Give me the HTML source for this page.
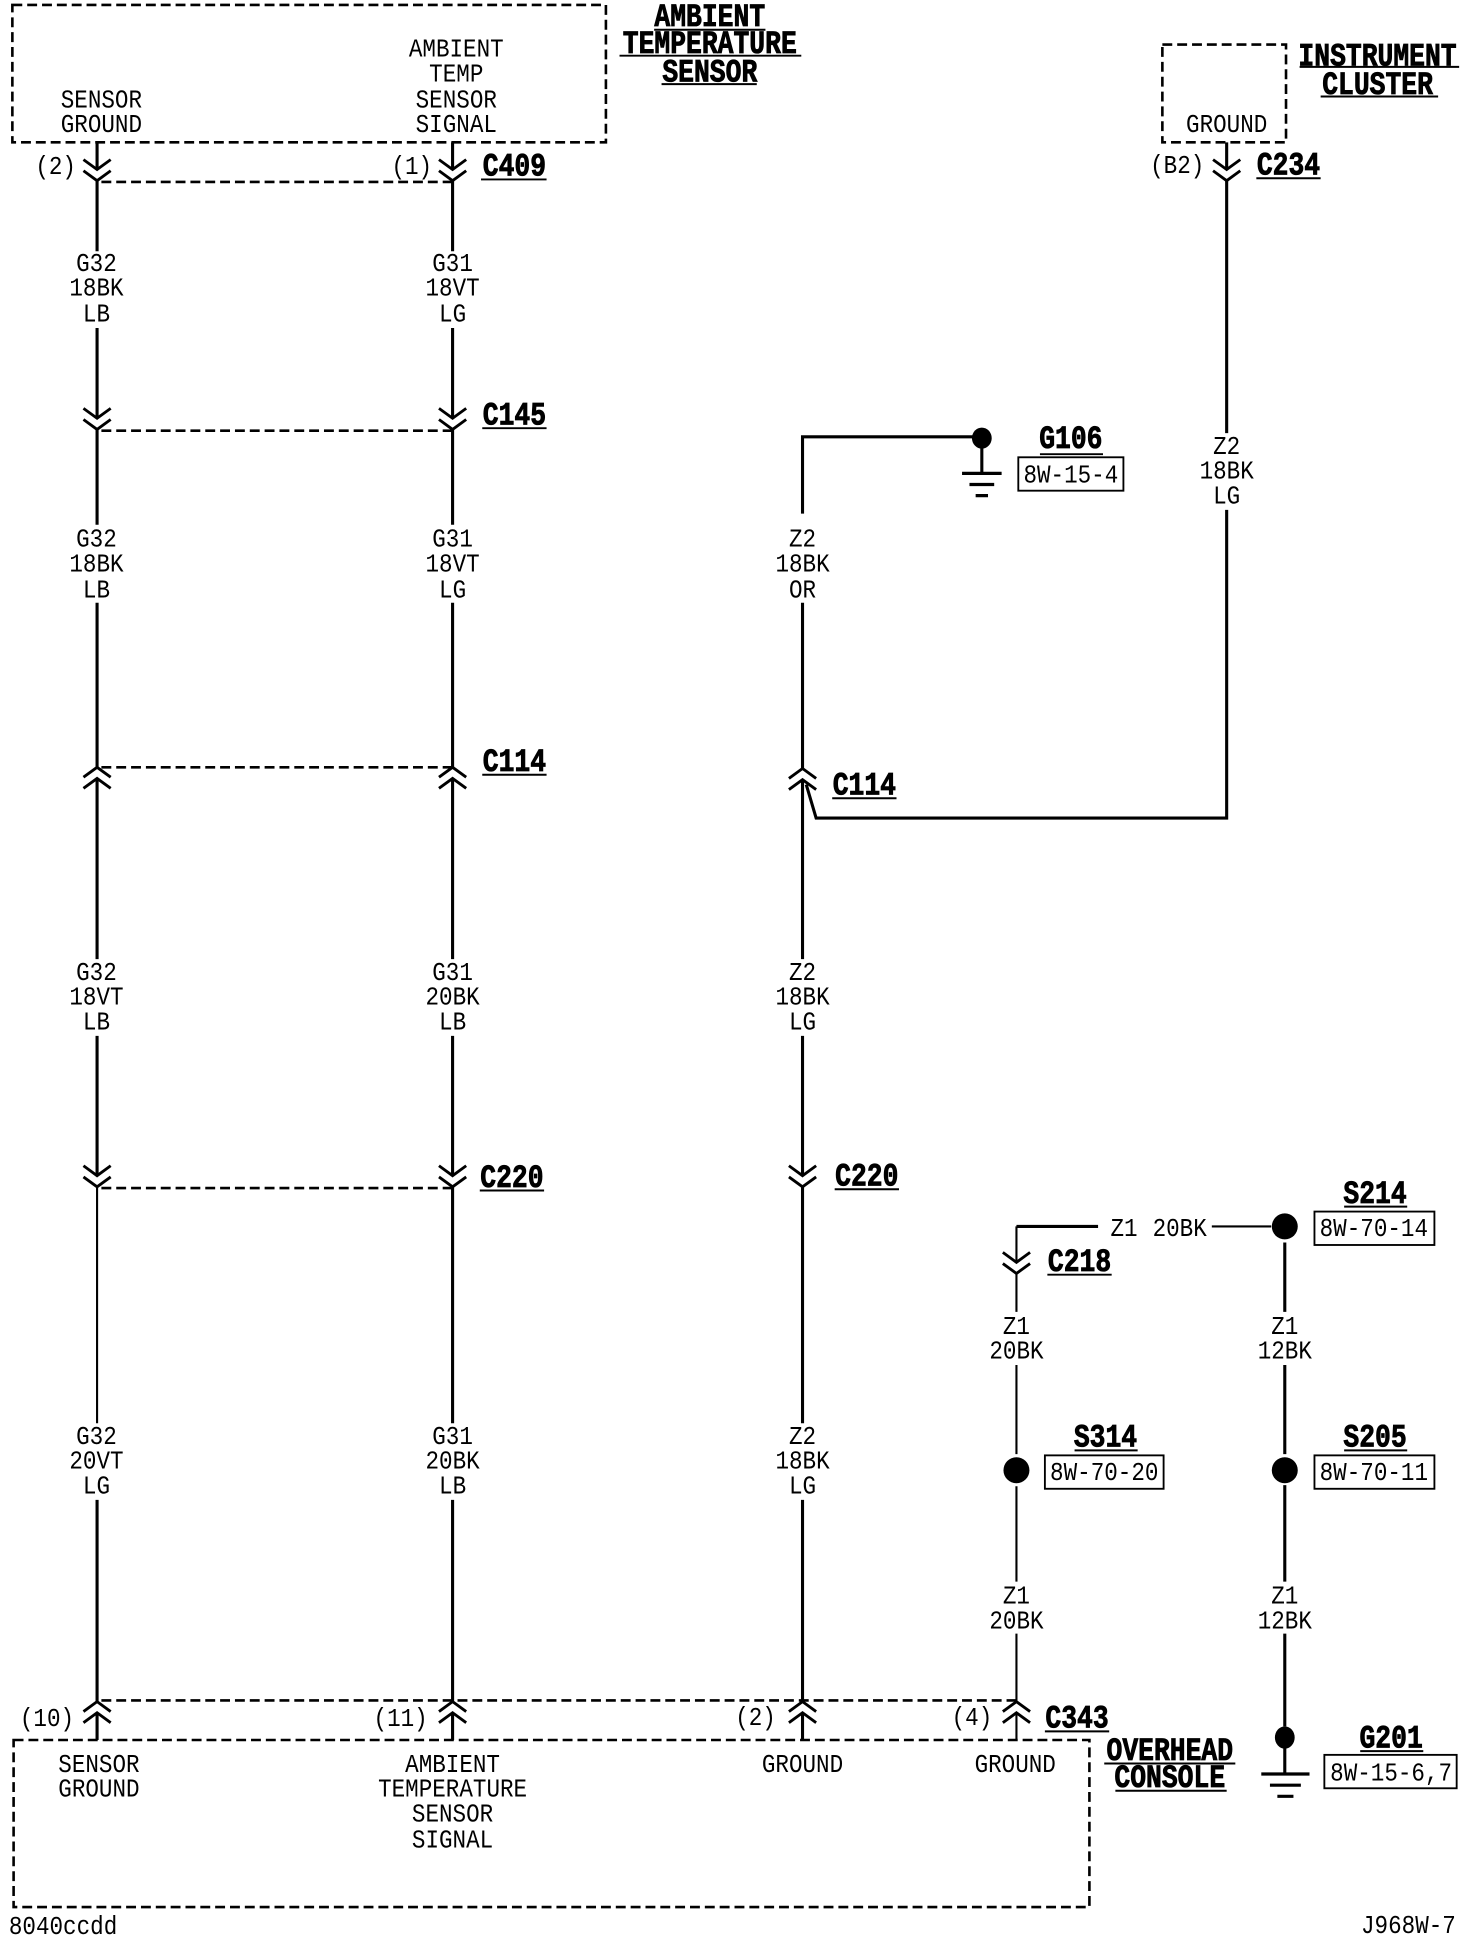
<!DOCTYPE html>
<html><head><meta charset="utf-8"><style>
html,body{margin:0;padding:0;background:#fff}
svg{display:block}
.t{font-family:"Liberation Mono",monospace;font-size:21px;text-anchor:middle;fill:#000;transform-box:fill-box;transform-origin:center;transform:scaleX(.87)}
.b{font-family:"Liberation Mono",monospace;font-weight:bold;font-size:26px;text-anchor:middle;fill:#000;stroke:#000;stroke-width:.7px;transform-box:fill-box;transform-origin:center;transform:scaleX(.82)}
.w{stroke:#000;stroke-width:2.5;fill:none}
.n{stroke:#000;stroke-width:1.7;fill:none}
.d{stroke:#000;stroke-width:2.1;fill:none;stroke-dasharray:8 4}
.r{stroke:#000;stroke-width:1.5;fill:#fff}
</style></head><body>
<svg width="1472" height="1940" viewBox="0 0 1190.400 1567.600" preserveAspectRatio="none" xmlns="http://www.w3.org/2000/svg">
<rect width="1191" height="1569" fill="#fff"/>
<defs>
<path id="cd" d="M-11,-8L0,0L11,-8M-11,1L0,9L11,1" fill="none" stroke="#000" stroke-width="2.3"/>
<path id="cu" d="M-11,8L0,0L11,8M-11,17L0,9L11,17" fill="none" stroke="#000" stroke-width="2.3"/>
</defs>

<!-- dashed component boxes and connector bars -->
<rect class="d" x="10" y="4" width="480" height="111"/>
<rect class="d" x="940" y="36" width="100" height="79"/>
<rect class="d" x="11" y="1406" width="870" height="135"/>
<path class="d" d="M82,147H366M82,348H366M82,620H366M82,960H366M82,1374H822"/>

<!-- left column -->
<path class="w" d="M78.500,115V137M78.500,146V203M78.500,265V338M78.500,347V424M78.500,487V620M78.500,629V775M78.500,837V950M78.500,1212V1375M78.500,1384V1406"/>
<path class="n" d="M78.500,959V1150"/>
<!-- middle column -->
<path class="w" d="M366,115V137M366,146V203M366,265V338M366,347V424M366,487V620M366,629V775M366,837V950M366,959V1150M366,1212V1375M366,1384V1406"/>
<!-- right column -->
<path class="w" d="M794,353H649V415M649,487V621M649,630V775M649,837V950M649,959V1150M649,1212V1375M649,1384V1406"/>
<path class="w" d="M652,634L660,661H992V412M992,350V146M992,115V137"/>
<!-- Z1 wires -->
<path class="n" d="M980,991H1028"/>
<path class="w" d="M888,991H822"/>
<path class="n" d="M822,991V1020M822,1029V1060M822,1103V1175M822,1201V1278M822,1320V1375M822,1384V1406"/>
<path class="w" d="M1039,1004V1060M1039,1103V1175M1039,1200V1278M1039,1320V1395M1039,1404V1433"/>

<!-- connectors -->
<use href="#cd" x="78.500" y="137"/><use href="#cd" x="366" y="137"/><use href="#cd" x="992" y="137"/>
<use href="#cd" x="78.500" y="338"/><use href="#cd" x="366" y="338"/>
<use href="#cu" x="78.500" y="620"/><use href="#cu" x="366" y="620"/><use href="#cu" x="649" y="621"/>
<use href="#cd" x="78.500" y="950"/><use href="#cd" x="366" y="950"/><use href="#cd" x="649" y="950"/>
<use href="#cd" x="822" y="1020"/>
<use href="#cu" x="78.500" y="1375"/><use href="#cu" x="366" y="1375"/><use href="#cu" x="649" y="1375"/><use href="#cu" x="822" y="1375"/>

<!-- splices and grounds -->
<ellipse cx="794" cy="354" rx="8" ry="8.500"/>
<circle cx="1039" cy="991" r="10.500"/><circle cx="822" cy="1188" r="10.500"/><circle cx="1039" cy="1188" r="10.500"/>
<ellipse cx="1039" cy="1404" rx="8" ry="9"/>
<path class="w" d="M794,354V382"/>
<path d="M778,382.500H810M784,391.500H804M789,400.500H799M1020,1433.500H1059M1027,1442.500H1052M1033,1451.500H1046" stroke="#000" stroke-width="2.600" fill="none"/>

<!-- reference boxes -->
<rect class="r" x="823.500" y="369.500" width="85" height="27"/>
<rect class="r" x="1063" y="979" width="97" height="27"/>
<rect class="r" x="845" y="1176" width="96" height="27"/>
<rect class="r" x="1063" y="1176" width="97" height="27"/>
<rect class="r" x="1071" y="1418" width="107" height="27"/>

<!-- title underlines -->
<path d="M529,24H619M501,45H648M535,68H612M1051,54H1180M1068,78H1163M389,145H442M390,346H442M390,626H442M673,645H725M388,962H440M675,961H727M1016,144H1068M841,367H892M1087,975H1138M869,1172H920M1087,1172H1138M847,1030H899M845,1399H897M1100,1415H1151M893,1425H999M902,1447H992" stroke="#000" stroke-width="1.600" fill="none"/>

<!-- regular text -->
<g transform="translate(0,6.800)">
<text class="t" x="82" y="80">SENSOR</text><text class="t" x="82" y="100">GROUND</text>
<text class="t" x="369" y="39">AMBIENT</text><text class="t" x="369" y="59">TEMP</text><text class="t" x="369" y="80">SENSOR</text><text class="t" x="369" y="100">SIGNAL</text>
<text class="t" x="992" y="100">GROUND</text>
<text class="t" x="45" y="134">(2)</text><text class="t" x="333" y="134">(1)</text><text class="t" x="952" y="133">(B2)</text>

<text class="t" x="78" y="212">G32</text><text class="t" x="78" y="232">18BK</text><text class="t" x="78" y="253">LB</text>
<text class="t" x="366" y="212">G31</text><text class="t" x="366" y="232">18VT</text><text class="t" x="366" y="253">LG</text>
<text class="t" x="78" y="435">G32</text><text class="t" x="78" y="455">18BK</text><text class="t" x="78" y="476">LB</text>
<text class="t" x="366" y="435">G31</text><text class="t" x="366" y="455">18VT</text><text class="t" x="366" y="476">LG</text>
<text class="t" x="649" y="435">Z2</text><text class="t" x="649" y="455">18BK</text><text class="t" x="649" y="476">OR</text>
<text class="t" x="992" y="360">Z2</text><text class="t" x="992" y="380">18BK</text><text class="t" x="992" y="400">LG</text>
<text class="t" x="78" y="785">G32</text><text class="t" x="78" y="805">18VT</text><text class="t" x="78" y="825">LB</text>
<text class="t" x="366" y="785">G31</text><text class="t" x="366" y="805">20BK</text><text class="t" x="366" y="825">LB</text>
<text class="t" x="649" y="785">Z2</text><text class="t" x="649" y="805">18BK</text><text class="t" x="649" y="825">LG</text>
<text class="t" x="78" y="1160">G32</text><text class="t" x="78" y="1180">20VT</text><text class="t" x="78" y="1200">LG</text>
<text class="t" x="366" y="1160">G31</text><text class="t" x="366" y="1180">20BK</text><text class="t" x="366" y="1200">LB</text>
<text class="t" x="649" y="1160">Z2</text><text class="t" x="649" y="1180">18BK</text><text class="t" x="649" y="1200">LG</text>

<text class="t" x="909" y="992">Z1</text><text class="t" x="954" y="992">20BK</text>
<text class="t" x="822" y="1071">Z1</text><text class="t" x="822" y="1091">20BK</text>
<text class="t" x="1039" y="1071">Z1</text><text class="t" x="1039" y="1091">12BK</text>
<text class="t" x="822" y="1289">Z1</text><text class="t" x="822" y="1309">20BK</text>
<text class="t" x="1039" y="1289">Z1</text><text class="t" x="1039" y="1309">12BK</text>

<text class="t" x="866" y="383">8W-15-4</text>
<text class="t" x="1111" y="992">8W-70-14</text>
<text class="t" x="893" y="1189">8W-70-20</text>
<text class="t" x="1111" y="1189">8W-70-11</text>
<text class="t" x="1125" y="1432">8W-15-6,7</text>

<text class="t" x="38" y="1388">(10)</text><text class="t" x="324" y="1388">(11)</text><text class="t" x="611" y="1387">(2)</text><text class="t" x="786" y="1387">(4)</text>
<text class="t" x="80" y="1425">SENSOR</text><text class="t" x="80" y="1445">GROUND</text>
<text class="t" x="366" y="1425">AMBIENT</text><text class="t" x="366" y="1445">TEMPERATURE</text><text class="t" x="366" y="1465">SENSOR</text><text class="t" x="366" y="1486">SIGNAL</text>
<text class="t" x="649" y="1425">GROUND</text><text class="t" x="821" y="1425">GROUND</text>
<text class="t" x="51" y="1556">8040ccdd</text><text class="t" x="1139" y="1555">J968W-7</text>
</g>

<!-- bold titles -->
<g transform="translate(0,8)">
<text class="b" x="574" y="13">AMBIENT</text><text class="b" x="574" y="35">TEMPERATURE</text><text class="b" x="574" y="58">SENSOR</text>
<text class="b" x="1114" y="45">INSTRUMENT</text><text class="b" x="1114" y="68">CLUSTER</text>
<text class="b" x="416" y="134">C409</text><text class="b" x="416" y="335">C145</text><text class="b" x="416" y="615">C114</text>
<text class="b" x="699" y="634">C114</text><text class="b" x="414" y="951">C220</text><text class="b" x="701" y="950">C220</text>
<text class="b" x="1042" y="133">C234</text><text class="b" x="866" y="354">G106</text>
<text class="b" x="1112" y="964">S214</text><text class="b" x="894" y="1161">S314</text><text class="b" x="1112" y="1161">S205</text>
<text class="b" x="873" y="1019">C218</text><text class="b" x="871" y="1388">C343</text><text class="b" x="1125" y="1404">G201</text>
<text class="b" x="946" y="1414">OVERHEAD</text><text class="b" x="946" y="1436">CONSOLE</text>
</g>
</svg>
</body></html>
